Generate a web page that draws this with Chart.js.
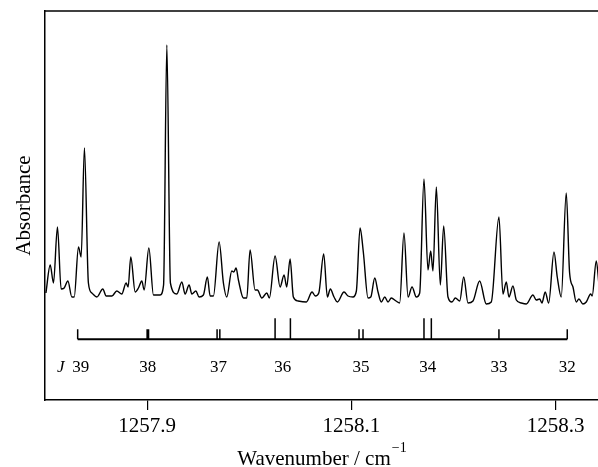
<!DOCTYPE html>
<html>
<head>
<meta charset="utf-8">
<script src="https://cdn.jsdelivr.net/npm/chart.js@4.4.1/dist/chart.umd.min.js"></script>
<style>
  html, body { margin: 0; padding: 0; background: #fff; }
  #wrap { width: 598px; height: 467px; }
</style>
</head>
<body>
<div id="wrap"><canvas id="espectro"></canvas></div>
<script>
// spectrum (wavenumber in cm-1, absorbance in arbitrary units)
const wavenumber = [
  1257.8009, 1257.8051, 1257.8083, 1257.8122, 1257.8158, 1257.8188, 1257.8224, 1257.8263, 1257.8286, 1257.8328,
  1257.8354, 1257.8386, 1257.8425, 1257.8459, 1257.8508, 1257.8566, 1257.8599, 1257.8655, 1257.8703, 1257.8752,
  1257.8794, 1257.8814, 1257.8840, 1257.8883, 1257.8915, 1257.8948, 1257.8971, 1257.9017, 1257.9062, 1257.9127,
  1257.9161, 1257.9193, 1257.9228, 1257.9291, 1257.9340, 1257.9372, 1257.9411, 1257.9438, 1257.9477, 1257.9509,
  1257.9551, 1257.9590, 1257.9617, 1257.9649, 1257.9705, 1257.9747, 1257.9780, 1257.9829, 1257.9849, 1257.9871,
  1257.9894, 1257.9943, 1257.9976, 1258.0008, 1258.0057, 1258.0080, 1258.0123, 1258.0172, 1258.0197, 1258.0253,
  1258.0302, 1258.0341, 1258.0367, 1258.0400, 1258.0432, 1258.0478, 1258.0559, 1258.0615, 1258.0647, 1258.0681,
  1258.0729, 1258.0765, 1258.0794, 1258.0830, 1258.0863, 1258.0928, 1258.0967, 1258.1016, 1258.1049, 1258.1085,
  1258.1117, 1258.1163, 1258.1190, 1258.1229, 1258.1261, 1258.1293, 1258.1327, 1258.1359, 1258.1391, 1258.1437,
  1258.1473, 1258.1515, 1258.1555, 1258.1594, 1258.1636, 1258.1669, 1258.1711, 1258.1750, 1258.1777, 1258.1799,
  1258.1832, 1258.1871, 1258.1904, 1258.1946, 1258.1985, 1258.2018, 1258.2061, 1258.2100, 1258.2142, 1258.2191,
  1258.2256, 1258.2321, 1258.2370, 1258.2445, 1258.2484, 1258.2517, 1258.2543, 1258.2582, 1258.2615, 1258.2664,
  1258.2713, 1258.2778, 1258.2810, 1258.2844, 1258.2866, 1258.2898, 1258.2932, 1258.2984, 1258.3016, 1258.3055,
  1258.3104, 1258.3137, 1258.3170, 1258.3202, 1258.3228, 1258.3267, 1258.3300, 1258.3343, 1258.3358, 1258.3398,
  1258.3425
];
const absorbance = [
  1.07, 1.35, 1.17, 1.73, 1.11, 1.12, 1.19, 1.03, 1.03, 1.53,
  1.43, 2.52, 1.17, 1.07, 1.03, 1.11, 1.04, 1.04, 1.09, 1.06,
  1.17, 1.13, 1.43, 1.08, 1.12, 1.19, 1.10, 1.52, 1.05, 1.05,
  1.15, 3.55, 1.17, 1.06, 1.18, 1.06, 1.15, 1.06, 1.09, 1.03,
  1.05, 1.23, 1.04, 1.04, 1.58, 1.17, 1.03, 1.29, 1.28, 1.32,
  1.20, 1.02, 1.02, 1.50, 1.10, 1.10, 1.02, 1.07, 1.02, 1.44,
  1.13, 1.25, 1.13, 1.41, 1.03, 0.99, 0.98, 1.08, 1.04, 1.07,
  1.46, 1.03, 1.11, 1.03, 0.98, 1.08, 1.04, 1.03, 1.09, 1.72,
  1.48, 1.02, 1.03, 1.22, 1.08, 0.98, 1.03, 0.98, 1.02, 0.99,
  0.97, 1.67, 1.03, 1.13, 1.03, 1.07, 2.21, 1.30, 1.49, 1.29,
  2.13, 1.15, 1.74, 1.03, 0.98, 1.02, 0.99, 1.23, 0.97, 0.99,
  1.19, 0.96, 0.98, 1.83, 1.06, 1.18, 1.03, 1.14, 1.00, 0.97,
  0.96, 1.05, 1.00, 1.01, 0.97, 1.08, 0.97, 1.48, 1.23, 1.03,
  2.07, 1.27, 1.13, 0.98, 1.01, 0.96, 0.98, 1.06, 1.04, 1.39,
  1.15
];
const xTicks = [1257.9, 1258.1, 1258.3];

// rotational assignment bracket
const jValues = ['39', '38', '37', '36', '35', '34', '33', '32'];
const jLines = [
  [1257.8320],
  [1257.9000, 1257.9014],
  [1257.9685, 1257.9712],
  [1258.0253, 1258.0403],
  [1258.1075, 1258.1114],
  [1258.1711, 1258.1783],
  [1258.2445],
  [1258.3114]
];
const jTall = [false, false, false, true, false, true, false, false];

const nivelBase = 0.607, nivelCurto = 0.707, nivelAlto = 0.817, nivelRotulo = 0.323;

const espectro = wavenumber.map((w, i) => ({ x: w, y: absorbance[i] }));
const linhaJ = [
  { x: jLines[0][0], y: nivelBase },
  { x: jLines[jLines.length - 1][0], y: nivelBase }
];
const marcasJ = [];
jLines.forEach((grupo, i) => {
  grupo.forEach(w => {
    marcasJ.push({ x: w, y: nivelBase }, { x: w, y: jTall[i] ? nivelAlto : nivelCurto }, { x: w, y: null });
  });
});

const serif = '"Liberation Serif", "Times New Roman", serif';

const extras = {
  id: 'extras',
  afterDraw(chart) {
    const { ctx, chartArea, scales: { x, y } } = chart;
    ctx.save();
    // top frame line
    ctx.strokeStyle = '#000';
    ctx.lineWidth = 1.5;
    ctx.beginPath();
    ctx.moveTo(chartArea.left - 0.75, chartArea.top);
    ctx.lineTo(chart.width, chartArea.top);
    ctx.stroke();

    // J labels
    ctx.fillStyle = '#000';
    ctx.textAlign = 'center';
    ctx.textBaseline = 'middle';
    ctx.font = '17px ' + serif;
    const yRot = y.getPixelForValue(nivelRotulo);
    jLines.forEach((grupo, i) => {
      const m = grupo.reduce((a, b) => a + b, 0) / grupo.length;
      ctx.fillText(jValues[i], x.getPixelForValue(m) + (i === 0 ? 3 : 0), yRot);
    });
    ctx.font = 'italic 17px ' + serif;
    ctx.fillText('J', x.getPixelForValue(jLines[0][0]) - 17, yRot);

    // x title with superscript
    const texto = 'Wavenumber / cm';
    ctx.font = '21px ' + serif;
    const w1 = ctx.measureText(texto).width;
    ctx.font = '14px ' + serif;
    const w2 = ctx.measureText('\u22121').width;
    const cx = (chartArea.left + chartArea.right) / 2;
    const sx = cx - (w1 + w2) / 2;
    ctx.textAlign = 'left';
    ctx.textBaseline = 'alphabetic';
    ctx.font = '21px ' + serif;
    ctx.fillText(texto, sx, 465);
    ctx.font = '14px ' + serif;
    ctx.fillText('\u22121', sx + w1 + 1, 452);
    ctx.restore();
  }
};

const grafico = new Chart(document.getElementById('espectro').getContext('2d'), {
  type: 'line',
  data: {
    datasets: [
      {
        label: 'Absorbance',
        data: espectro,
        borderColor: '#000',
        borderWidth: 1.4,
        pointRadius: 0,
        cubicInterpolationMode: 'monotone',
        fill: false
      },
      {
        label: 'J bracket',
        data: linhaJ,
        borderColor: '#000',
        borderWidth: 2,
        pointRadius: 0,
        tension: 0
      },
      {
        label: 'J lines',
        data: marcasJ,
        borderColor: '#000',
        borderWidth: 1.5,
        pointRadius: 0,
        tension: 0,
        spanGaps: false
      }
    ]
  },
  options: {
    responsive: true,
    maintainAspectRatio: false,
    animation: false,
    layout: { padding: { top: 11, right: 0, left: 0, bottom: 0 } },
    plugins: {
      legend: { display: false },
      tooltip: { enabled: false }
    },
    scales: {
      x: {
        type: 'linear',
        min: 1257.8,
        max: 1258.3415,
        afterBuildTicks: (scale) => { scale.ticks = xTicks.map(v => ({ value: v })); },
        afterFit: (scale) => { scale.height = 67; },
        ticks: {
          color: '#000',
          font: { family: serif, size: 21 },
          padding: 4,
          maxRotation: 0,
          callback: (v) => Number(v).toFixed(1)
        },
        grid: { display: true, drawOnChartArea: false, drawTicks: true, tickLength: 10, color: '#000', lineWidth: 1.2 },
        border: { display: true, color: '#000', width: 1.5 }
      },
      y: {
        min: 0,
        max: 3.89,
        afterFit: (scale) => { scale.width = 45; },
        ticks: { display: false },
        grid: { display: false },
        border: { display: true, color: '#000', width: 1.5 },
        title: {
          display: true,
          text: 'Absorbance',
          color: '#000',
          font: { family: serif, size: 21 },
          padding: { top: 12, bottom: 0 }
        }
      }
    }
  },
  plugins: [extras]
});
</script>
</body>
</html>
